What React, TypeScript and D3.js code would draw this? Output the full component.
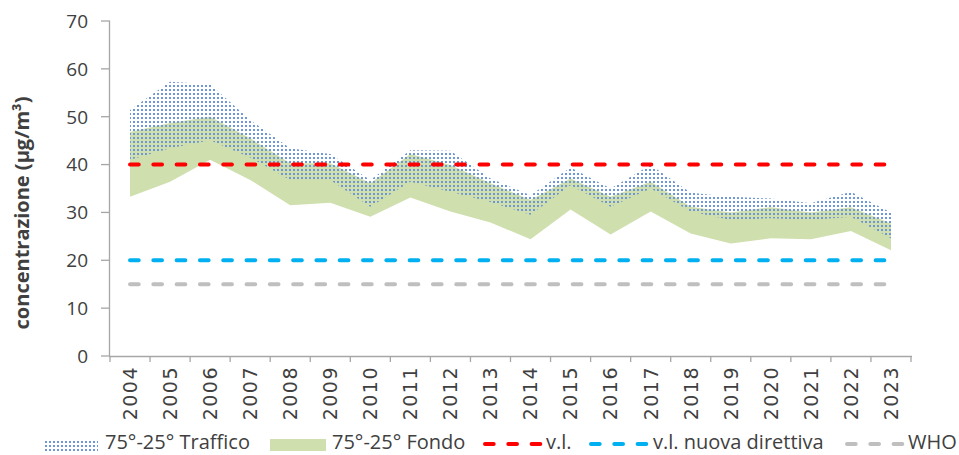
import { useEffect, useRef } from "react";
import * as d3 from "d3";

const years = ["2004", "2005", "2006", "2007", "2008", "2009", "2010", "2011", "2012", "2013", "2014", "2015", "2016", "2017", "2018", "2019", "2020", "2021", "2022", "2023"];
const traffico75 = [51.4, 57.3, 56.8, 49.3, 43.4, 42.2, 36.8, 43.0, 42.9, 37.1, 33.6, 39.4, 35.0, 39.9, 34.1, 33.3, 32.9, 31.9, 34.3, 30.0];
const traffico25 = [41.0, 43.4, 45.1, 41.5, 36.8, 36.8, 31.2, 36.4, 34.3, 32.2, 29.5, 35.7, 31.2, 35.0, 30.2, 28.4, 28.8, 28.4, 29.1, 24.6];
const fondo75 = [46.8, 48.7, 50.0, 45.5, 40.3, 40.3, 36.1, 42.2, 39.9, 36.1, 32.6, 37.1, 33.3, 36.4, 31.2, 30.0, 31.1, 30.0, 31.1, 27.7];
const fondo25 = [33.3, 36.4, 41.0, 36.8, 31.5, 32.0, 29.1, 33.1, 30.2, 27.9, 24.4, 30.6, 25.4, 30.2, 25.6, 23.5, 24.6, 24.4, 26.1, 22.1];
const limits = [
  { name: "v.l.", value: 40, color: "#ff0000" },
  { name: "v.l. nuova direttiva", value: 20, color: "#00b0f0" },
  { name: "WHO", value: 15, color: "#bfbfbf" },
];
const yTicks = [0, 10, 20, 30, 40, 50, 60, 70];

const FONT = "'Open Sans', sans-serif";
const TEXT = "#404040";
const AXIS = "#a6a6a6";

export default function App() {
  const ref = useRef<SVGSVGElement>(null);

  useEffect(() => {
    const svg = d3.select(ref.current);
    svg.selectAll("*").remove();

    const x = d3.scaleBand().domain(years).range([110, 911]);
    const y = d3.scaleLinear().domain([0, 70]).range([356, 21]);
    const cx = (d: string) => (x(d) as number) + x.bandwidth() / 2;

    const defs = svg.append("defs");
    const pat = defs
      .append("pattern")
      .attr("id", "dots")
      .attr("patternUnits", "userSpaceOnUse")
      .attr("width", 4)
      .attr("height", 4);
    pat.append("rect").attr("x", 1).attr("y", 1).attr("width", 2).attr("height", 2).attr("fill", "#6f97d6");

    const area = (hi: number[], lo: number[]) =>
      d3
        .area<string>()
        .x((d) => cx(d))
        .y0((d, i) => y(lo[i]))
        .y1((d, i) => y(hi[i]))(years);

    svg.append("path").attr("d", area(fondo75, fondo25)).attr("fill", "#cfdfae");
    svg.append("path").attr("d", area(traffico75, traffico25)).attr("fill", "url(#dots)");

    // limit lines
    limits.forEach((l) => {
      svg
        .append("line")
        .attr("x1", cx(years[0]))
        .attr("x2", cx(years[years.length - 1]))
        .attr("y1", y(l.value))
        .attr("y2", y(l.value))
        .attr("stroke", l.color)
        .attr("stroke-width", 4)
        .attr("stroke-linecap", "round")
        .attr("stroke-dasharray", "8.7 14.6");
    });

    // y axis
    svg.append("line").attr("x1", 109.5).attr("x2", 109.5).attr("y1", 21).attr("y2", 356).attr("stroke", AXIS).attr("stroke-width", 1.3);
    yTicks.forEach((t) => {
      svg.append("line").attr("x1", 101).attr("x2", 110).attr("y1", y(t)).attr("y2", y(t)).attr("stroke", AXIS).attr("stroke-width", 1.3);
      svg
        .append("text")
        .attr("x", 88)
        .attr("y", y(t))
        .attr("dy", "0.36em")
        .attr("text-anchor", "end")
        .attr("font-size", 19)
        .attr("font-family", FONT)
        .attr("fill", TEXT)
        .text(t);
    });

    // x axis
    svg.append("line").attr("x1", 109).attr("x2", 912).attr("y1", 356.5).attr("y2", 356.5).attr("stroke", AXIS).attr("stroke-width", 1.3);
    years.concat(["end"]).forEach((d, i) => {
      const xp = 110 + i * x.bandwidth();
      svg.append("line").attr("x1", xp).attr("x2", xp).attr("y1", 356).attr("y2", 362).attr("stroke", AXIS).attr("stroke-width", 1.3);
    });
    years.forEach((d) => {
      svg
        .append("text")
        .attr("transform", `translate(${cx(d)},366) rotate(-90)`)
        .attr("dy", "0.36em")
        .attr("text-anchor", "end")
        .attr("font-size", 19)
        .attr("letter-spacing", 1.5)
        .attr("font-family", "'DejaVu Sans', sans-serif")
        .attr("fill", TEXT)
        .text(d);
    });

    // y label
    svg
      .append("text")
      .attr("transform", "translate(22,213) rotate(-90)")
      .attr("dy", "0.35em")
      .attr("text-anchor", "middle")
      .attr("font-size", 20)
      .attr("font-weight", "bold")
      .attr("font-family", FONT)
      .attr("fill", TEXT)
      .text("concentrazione (µg/m³)");

    // legend
    const lg = svg.append("g").attr("font-family", FONT).attr("font-size", 20).attr("fill", TEXT);
    lg.append("rect").attr("x", 43).attr("y", 439).attr("width", 55).attr("height", 12).attr("fill", "url(#dots)");
    lg.append("text").attr("x", 105).attr("y", 449).text("75°-25° Traffico");
    lg.append("rect").attr("x", 270).attr("y", 439).attr("width", 56).attr("height", 12).attr("fill", "#cfdfae");
    lg.append("text").attr("x", 332).attr("y", 449).text("75°-25° Fondo");
    const legX = [[485, 546], [591, 653], [847, 908]];
    limits.forEach((l, i) => {
      lg.append("line")
        .attr("x1", legX[i][0])
        .attr("x2", legX[i][0] + 56)
        .attr("y1", 444)
        .attr("y2", 444)
        .attr("stroke", l.color)
        .attr("stroke-width", 4)
        .attr("stroke-linecap", "round")
        .attr("stroke-dasharray", "8.7 14.6");
      lg.append("text").attr("x", legX[i][1]).attr("y", 449).text(l.name);
    });
  }, []);

  return (
    <svg
      ref={ref}
      width={959}
      height={455}
      style={{ position: "absolute", left: 0, top: 0, background: "#fff" }}
    ></svg>
  );
}
